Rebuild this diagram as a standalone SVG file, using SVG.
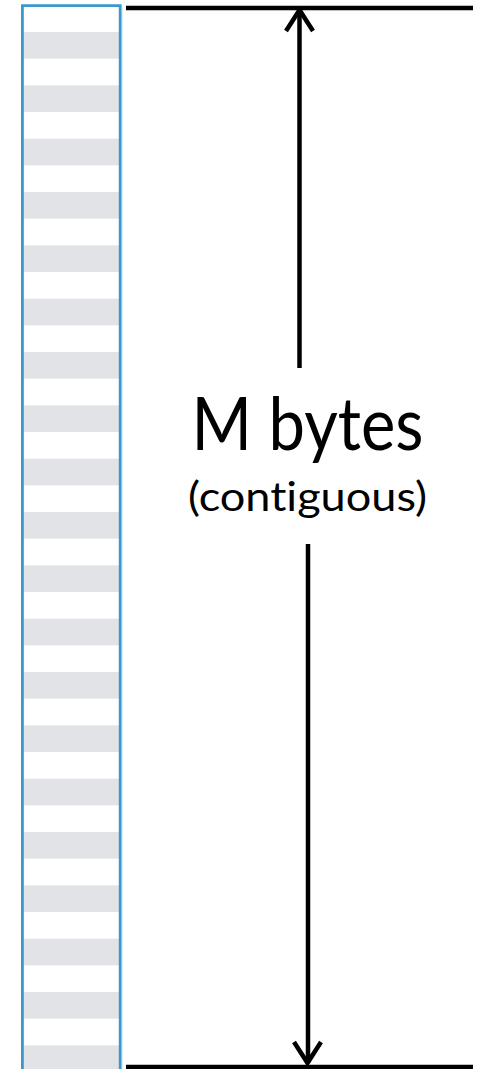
<svg xmlns="http://www.w3.org/2000/svg" width="478" height="1069" viewBox="0 0 478 1069">
<defs>
<style>
.stripe{fill:#e2e3e6}
.line{stroke:#000;stroke-width:4.5;fill:none}
.head{stroke:#000;stroke-width:4.5;fill:none;stroke-linecap:butt;stroke-linejoin:miter}
.label{font-family:Lato,"Open Sans","Liberation Sans",sans-serif;fill:#000;text-anchor:middle;font-variant-ligatures:none}
</style>
</defs>
<rect width="478" height="1069" fill="#fff"/>
<g id="memory">
<rect class="stripe" x="23" y="32" width="96" height="26.7"/>
<rect class="stripe" x="23" y="85.3" width="96" height="26.7"/>
<rect class="stripe" x="23" y="138.7" width="96" height="26.7"/>
<rect class="stripe" x="23" y="192" width="96" height="26.7"/>
<rect class="stripe" x="23" y="245.3" width="96" height="26.7"/>
<rect class="stripe" x="23" y="298.7" width="96" height="26.7"/>
<rect class="stripe" x="23" y="352" width="96" height="26.7"/>
<rect class="stripe" x="23" y="405.3" width="96" height="26.7"/>
<rect class="stripe" x="23" y="458.7" width="96" height="26.7"/>
<rect class="stripe" x="23" y="512" width="96" height="26.7"/>
<rect class="stripe" x="23" y="565.3" width="96" height="26.7"/>
<rect class="stripe" x="23" y="618.7" width="96" height="26.7"/>
<rect class="stripe" x="23" y="672" width="96" height="26.7"/>
<rect class="stripe" x="23" y="725.3" width="96" height="26.7"/>
<rect class="stripe" x="23" y="778.7" width="96" height="26.7"/>
<rect class="stripe" x="23" y="832" width="96" height="26.7"/>
<rect class="stripe" x="23" y="885.3" width="96" height="26.7"/>
<rect class="stripe" x="23" y="938.7" width="96" height="26.7"/>
<rect class="stripe" x="23" y="992" width="96" height="26.7"/>
<rect class="stripe" x="23" y="1045.3" width="96" height="26.7"/>
<path d="M22.4 1075 V5.6 H120.2 V1075" fill="none" stroke="#3a98cd" stroke-width="2.8"/>
<path d="M121.8 7 V1075" fill="none" stroke="#8cc6e6" stroke-width="1"/>
</g>
<g id="connectors">
<line class="line" x1="126" y1="8" x2="473" y2="8"/>
<line class="line" x1="126" y1="1067" x2="473" y2="1067"/>
<line class="line" x1="299.5" y1="11" x2="299.5" y2="368"/>
<line class="line" x1="308" y1="544" x2="308" y2="1063"/>
<polyline class="head" points="286,31 299.5,10 313,31"/>
<polyline class="head" points="294,1042 307.5,1063 321,1042"/>
</g>
<g id="label">
<text class="label" x="307.5" y="450" font-size="74" textLength="232" lengthAdjust="spacingAndGlyphs">M bytes</text>
<text class="label" x="307.5" y="511" font-size="40" textLength="239" lengthAdjust="spacingAndGlyphs">(contiguous)</text>
</g>
</svg>
